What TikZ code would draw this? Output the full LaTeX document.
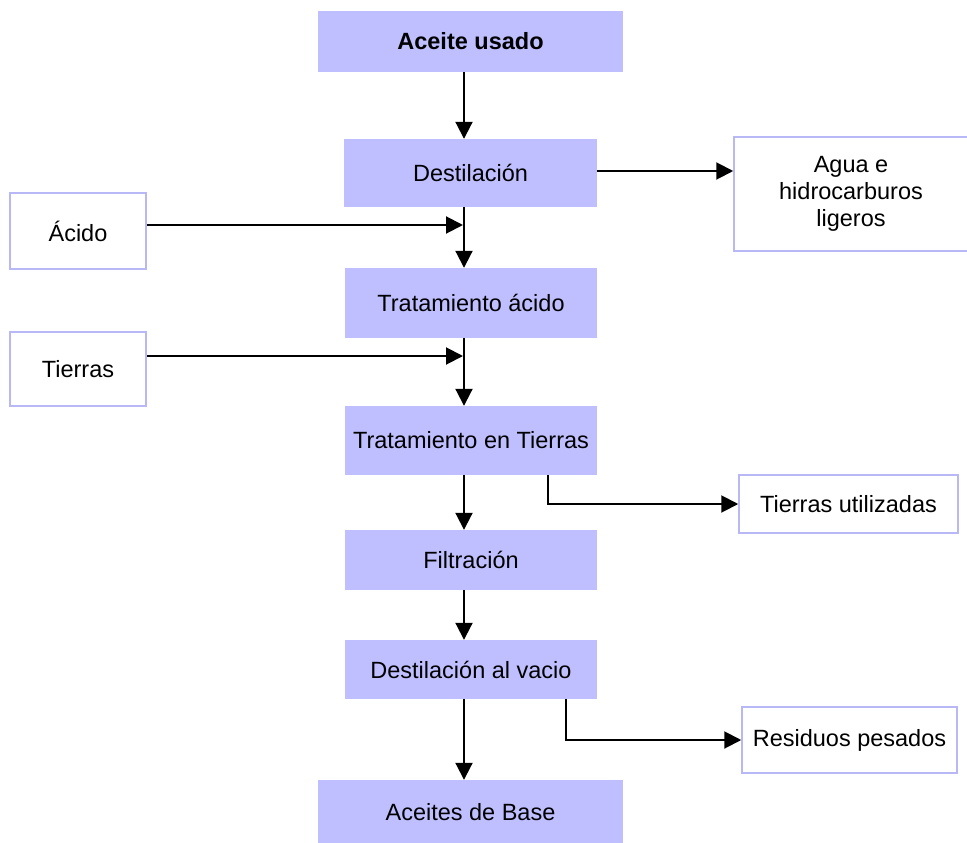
\documentclass[tikz,border=0pt]{standalone}
\usepackage{fontspec}
\setmainfont{Liberation Sans}
\usetikzlibrary{arrows.meta}
\definecolor{stepfill}{HTML}{BFBFFF}
\definecolor{sideline}{HTML}{B8B8F6}
\begin{document}
\begin{tikzpicture}[x=1pt,y=-1pt,
  every node/.style={font=\fontsize{23.5}{27}\selectfont, inner sep=0pt, align=center},
  stepbox/.style={rectangle, fill=stepfill, draw=none},
  sidebox/.style={rectangle, fill=white, draw=sideline, line width=1.5pt},
  arr/.style={line width=2pt, -{Triangle[length=17pt,width=17pt]}},
  conn/.style={line width=2pt}]
\useasboundingbox (0,0) rectangle (967,843);

% main process column
\node[stepbox, minimum width=305, minimum height=61] (aceite) at (470.5,41.5) {\textbf{Aceite usado}};
\node[stepbox, minimum width=253, minimum height=68] (dest) at (470.5,173) {Destilación};
\node[stepbox, minimum width=252, minimum height=70] (tacido) at (471,303) {Tratamiento ácido};
\node[stepbox, minimum width=252, minimum height=69] (ttierras) at (471,440.5) {Tratamiento en Tierras};
\node[stepbox, minimum width=252, minimum height=60] (filt) at (471,560) {Filtración};
\node[stepbox, minimum width=252, minimum height=59] (dvac) at (471,669.5) {Destilación al vacio};
\node[stepbox, minimum width=305, minimum height=64] (base) at (470.5,812) {Aceites de Base};

% inputs and by-products
\node[sidebox, minimum width=234, minimum height=114] (agua) at (851,194) {Agua e\\hidrocarburos\\ligeros};
\node[sidebox, minimum width=136, minimum height=76] (acido) at (78,231) {Ácido};
\node[sidebox, minimum width=136, minimum height=74] (tierras) at (78,369) {Tierras};
\node[sidebox, minimum width=219, minimum height=58] (tutil) at (848.5,504) {Tierras utilizadas};
\node[sidebox, minimum width=215, minimum height=66] (resid) at (849.5,740) {Residuos pesados};

% junction points on the main line
\coordinate (spine) at (464,0);
\coordinate (jA) at (463,225);
\coordinate (jT) at (463,356);

% main flow
\draw[arr] (aceite.south -| spine) -- (dest.north -| spine);
\draw[arr] (dest.south -| spine) -- (tacido.north -| spine);
\draw[arr] (tacido.south -| spine) -- (ttierras.north -| spine);
\draw[arr] (ttierras.south -| spine) -- (filt.north -| spine);
\draw[arr] (filt.south -| spine) -- (dvac.north -| spine);
\draw[arr] (dvac.south -| spine) -- (base.north -| spine);

% side inputs
\draw[arr] (acido.east |- jA) -- (jA);
\draw[arr] (tierras.east |- jT) -- (jT);

% by-product outputs
\draw[arr] (dest.east |- 0,171) -- (agua.west |- 0,171);
\draw[arr] (ttierras.south -| 548,0) |- (tutil.west);
\draw[arr] (dvac.south -| 566,0) |- (resid.west);
\end{tikzpicture}
\end{document}
